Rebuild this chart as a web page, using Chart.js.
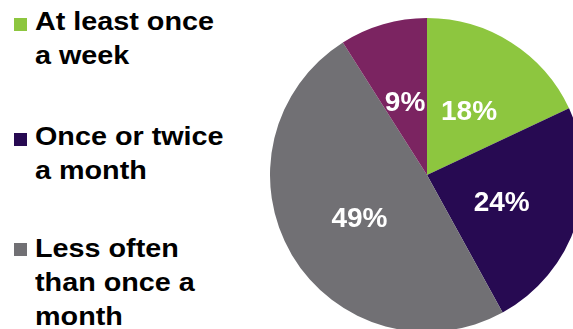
<!DOCTYPE html>
<html>
<head>
<meta charset="utf-8">
<script src="https://cdn.jsdelivr.net/npm/chart.js@4/dist/chart.umd.min.js"></script>
<style>
  html, body { margin: 0; padding: 0; width: 573px; height: 329px; overflow: hidden; background: #fff; }
  #wrap { position: absolute; left: 270px; top: 18px; width: 314px; height: 314px; }
  .leg { position: absolute; left: 0; font-family: "Liberation Sans", Arial, sans-serif; font-weight: bold; font-size: 25px; line-height: 34px; color: #000; }
  .leg .box { position: absolute; left: 14px; width: 13px; height: 13px; }
  .leg .txt { position: absolute; left: 35px; white-space: nowrap; transform: scaleX(1.15); transform-origin: 0 0; }
</style>
</head>
<body>
<div id="legend"></div>
<div id="wrap"><canvas id="c" width="314" height="314"></canvas></div>
<script>
// Data
const categories = ["At least once a week", "Once or twice a month", "Less often than once a month", ""];
const values = [18, 24, 49, 9];
const colors = ["#8DC63F", "#270A52", "#717074", "#7B2461"];
const legendLines = [["At least once", "a week"], ["Once or twice", "a month"], ["Less often", "than once a", "month"]];

// Legend (HTML text)
const legendTops = [4, 119, 231];
const legendBoxTops = [14, 14, 12];
const legend = document.getElementById('legend');
legendLines.forEach((lines, i) => {
  const d = document.createElement('div');
  d.className = 'leg';
  d.style.top = legendTops[i] + 'px';
  const b = document.createElement('div');
  b.className = 'box';
  b.style.top = legendBoxTops[i] + 'px';
  b.style.background = colors[i];
  const t = document.createElement('div');
  t.className = 'txt';
  t.innerHTML = lines.join('<br>');
  d.appendChild(b); d.appendChild(t);
  legend.appendChild(d);
});

const labelPlugin = {
  id: 'pctLabels',
  afterDatasetsDraw(chart) {
    const ctx = chart.ctx;
    const meta = chart.getDatasetMeta(0);
    ctx.save();
    ctx.fillStyle = '#fff';
    ctx.font = 'bold 28px "Liberation Sans", Arial, sans-serif';
    ctx.textAlign = 'center';
    ctx.textBaseline = 'middle';
    meta.data.forEach((arc, i) => {
      const p = arc.tooltipPosition();
      ctx.fillText(chart.data.datasets[0].data[i] + '%', p.x, p.y + 4);
    });
    ctx.restore();
  }
};

new Chart(document.getElementById('c'), {
  type: 'pie',
  data: {
    labels: categories,
    datasets: [{ data: values, backgroundColor: colors, borderWidth: 0 }]
  },
  options: {
    responsive: false,
    animation: false,
    layout: { padding: 0 },
    plugins: { legend: { display: false }, tooltip: { enabled: false } }
  },
  plugins: [labelPlugin]
});
</script>
</body>
</html>
